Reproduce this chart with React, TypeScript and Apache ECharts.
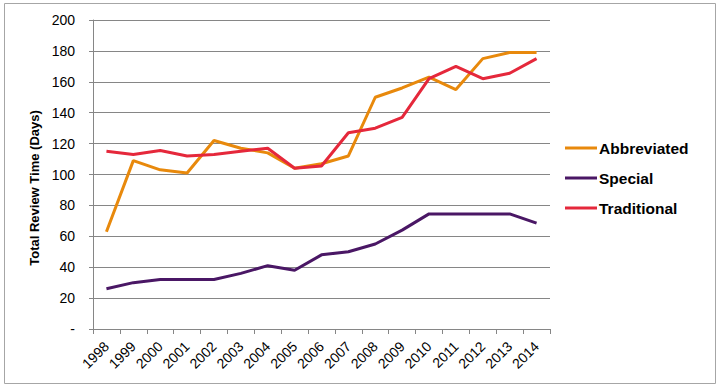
import React, { useEffect, useRef } from "react";
import * as echarts from "echarts";

const years = ["1998","1999","2000","2001","2002","2003","2004","2005","2006","2007","2008","2009","2010","2011","2012","2013","2014"];
const abbreviated = [63, 109, 103, 101, 122, 117, 114, 104, 107, 112, 150, 156, 163, 155, 175, 179, 179];
const special = [26, 30, 32, 32, 32, 36, 41, 38, 48, 50, 55, 64, 74.5, 74.5, 74.5, 74.5, 68.5];
const traditional = [115, 113, 115.5, 112, 113, 115, 117, 104, 105.5, 127, 130, 137, 162, 170, 162, 165.5, 175];
const yTitle = "Total Review Time (Days)";

export default function App() {
  const ref = useRef<HTMLDivElement>(null);
  useEffect(() => {
    const chart = echarts.init(ref.current!, null, { renderer: "svg" });
    const font = "'Liberation Sans', Arial, sans-serif";
    chart.setOption({
      animation: false,
      backgroundColor: "#fff",
      textStyle: { fontFamily: font },
      graphic: [
        { type: "rect", shape: { x: 4.5, y: 3.5, width: 711, height: 380 }, style: { fill: "none", stroke: "#a6a6a6", lineWidth: 1 } },
        {
          type: "text",
          x: 34,
          y: 188,
          rotation: Math.PI / 2,
          style: { text: yTitle, fontFamily: font, fontSize: 13, fontWeight: "bold", fill: "#000", align: "center", verticalAlign: "middle" },
        },
      ],
      grid: { left: 93, right: 172, top: 20, bottom: 63 },
      legend: {
        orient: "vertical",
        left: 560,
        top: 135,
        itemWidth: 32,
        itemHeight: 3,
        itemGap: 14,
        icon: "rect",
        textStyle: { fontFamily: font, fontSize: 15.5, fontWeight: "bold", color: "#000", padding: [0, 0, 0, -3] },
        data: ["Abbreviated", "Special", "Traditional"],
      },
      xAxis: {
        type: "category",
        data: years,
        boundaryGap: true,
        axisLine: { lineStyle: { color: "#868686" } },
        axisTick: { show: true, alignWithLabel: false, length: 5, lineStyle: { color: "#868686" } },
        axisLabel: { rotate: 45, fontSize: 14, color: "#000", fontFamily: font, margin: 15, interval: 0 },
      },
      yAxis: {
        type: "value",
        min: 0,
        max: 200,
        interval: 20,
        axisLine: { show: true, lineStyle: { color: "#868686" } },
        axisTick: { show: true, inside: false, length: 4, lineStyle: { color: "#868686" } },
        axisLabel: { fontSize: 14, color: "#000", fontFamily: font, margin: 18, formatter: (v: number) => (v === 0 ? "-" : String(v)) },
        splitLine: { lineStyle: { color: "#868686", width: 1 } },
      },
      series: [
        { name: "Abbreviated", type: "line", data: abbreviated, showSymbol: false, symbol: "none", color: "#E8890C", lineStyle: { width: 3, color: "#E8890C" } },
        { name: "Special", type: "line", data: special, showSymbol: false, symbol: "none", color: "#4A1765", lineStyle: { width: 3, color: "#4A1765" } },
        { name: "Traditional", type: "line", data: traditional, showSymbol: false, symbol: "none", color: "#E5283B", lineStyle: { width: 3, color: "#E5283B" } },
      ],
    });
    return () => chart.dispose();
  }, []);
  return <div ref={ref} style={{ width: 722, height: 392, position: "absolute", left: 0, top: 0 }} />;
}
